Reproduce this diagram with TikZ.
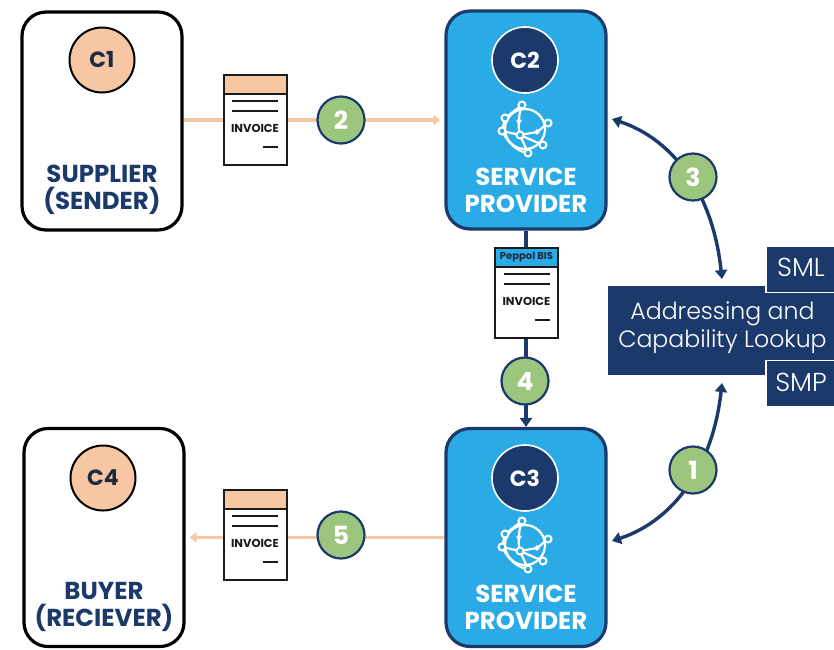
\documentclass[tikz,border=0pt]{standalone}
\usepackage{fontspec}
\setmainfont{Poppins}
\newfontfamily\lightf{Poppins Light}
\usetikzlibrary{arrows.meta}
\definecolor{navy}{HTML}{1B3A6B}
\definecolor{sky}{HTML}{2BABE6}
\definecolor{peach}{HTML}{F7C6A3}
\definecolor{leaf}{HTML}{9CC67E}
\definecolor{inkk}{HTML}{1A1A1A}
\definecolor{deep}{HTML}{1E2A40}
\tikzset{
  party/.style={draw=black,line width=3.2pt,fill=white,rounded corners=24pt,minimum width=160pt,minimum height=218pt,inner sep=0pt},
  provider/.style={draw=navy,line width=3.2pt,fill=sky,rounded corners=24pt,minimum width=160pt,minimum height=218pt,inner sep=0pt},
  badgeA/.style={circle,draw=black,line width=2pt,fill=peach,minimum size=65pt,inner sep=0pt,text=deep,font=\bfseries\fontsize{22}{22}\selectfont},
  badgeB/.style={circle,draw=white,line width=1.6pt,fill=navy,minimum size=66pt,inner sep=0pt,text=white,font=\bfseries\fontsize{22}{22}\selectfont},
  num/.style={circle,draw=navy,line width=2.2pt,fill=leaf,minimum size=47pt,inner sep=0pt,text=white,font=\bfseries\fontsize{25}{25}\selectfont},
  bigtxt/.style={align=center,font=\bfseries\fontsize{24.5}{27}\selectfont,inner sep=0pt},
  sheet/.style={draw=inkk,line width=2pt,fill=white,minimum width=63pt,minimum height=90pt,inner sep=0pt},
  band/.style={draw=inkk,line width=2pt,minimum width=63pt,minimum height=19pt,inner sep=0pt},
  invtxt/.style={font=\bfseries\fontsize{11.5}{12}\selectfont,text=inkk,inner sep=0pt},
  rule/.style={draw=inkk,line width=2pt},
  nline/.style={draw=navy,line width=3.4pt},
  pline/.style={draw=peach,line width=3.4pt},
  ntip/.style={-{Triangle[length=9pt,width=12pt]}},
  ntwo/.style={{Triangle[length=9pt,width=12pt]}-{Triangle[length=9pt,width=12pt]}},
  ptip/.style={-{Triangle[length=7pt,width=10pt]},shorten >=4pt},
  dark/.style={fill=navy,inner sep=0pt},
  lk/.style={draw=white,line width=2.2pt,line cap=round},
  dot/.style={circle,draw=white,line width=2pt,fill=sky,minimum size=7pt,inner sep=0pt},
}
\newcommand{\invoicelines}[1]{%
  \draw[rule] ([xshift=-23pt,yshift=-27pt]#1.north) -- ([xshift=23pt,yshift=-27pt]#1.north);
  \draw[rule] ([xshift=-23pt,yshift=-37pt]#1.north) -- ([xshift=23pt,yshift=-37pt]#1.north);
  \draw[rule] ([xshift=8pt,yshift=-73pt]#1.north) -- ([xshift=23pt,yshift=-73pt]#1.north);
  \node[invtxt] at ([yshift=-54pt]#1.north) {INVOICE};
}
\newcommand{\globe}[2]{%
  \begin{scope}[shift={(#1,#2)}]
    \coordinate (gA) at (-3,-23); \coordinate (gB) at (-20,-10); \coordinate (gC) at (-23,3);
    \coordinate (gD) at (23,-5); \coordinate (gE) at (18,17); \coordinate (gF) at (3,25);
    \coordinate (gG) at (-5,7); \coordinate (gH) at (-6,-7); \coordinate (gI) at (12,4);
    \draw[lk] (0,1) circle (20);
    \draw[lk] (gA) -- (gB) -- (gC) .. controls (-15,18) and (-6,24) .. (gF);
    \draw[lk] (gA) .. controls (-7,-12) and (-7,0) .. (gG);
    \draw[lk] (gG) -- (gI) -- (gD); \draw[lk] (gG) -- (gE); \draw[lk] (gC) -- (gG); \draw[lk] (gG) -- (gF);
    \foreach \p in {gA,gB,gC,gD,gE,gF,gG}{\node[dot] at (\p) {};}
    \foreach \p in {gH,gI}{\node[dot,fill=white,minimum size=3pt] at (\p) {};}
  \end{scope}
}
\begin{document}
\begin{tikzpicture}[x=1pt,y=-1pt]
\useasboundingbox (0,0) rectangle (834,649);
% party boxes
\node[party] (sup) at (102,121) {};
\node[provider] (c2box) at (526,120) {};
\node[provider] (c3box) at (526,537.5) {};
\node[party] (buy) at (104,537.5) {};
% lookup
\node[dark,minimum width=226pt,minimum height=89pt] (look) at (721,330.5) {};
\node[dark,draw=white,line width=1.4pt,minimum width=70pt,minimum height=46pt] (sml) at (801,269.5) {};
\node[dark,draw=white,line width=1.4pt,minimum width=70pt,minimum height=46pt] (smp) at (801,383.5) {};
\node[text=white,inner sep=0pt,font=\fontsize{26}{26}\selectfont\lightf] at (801,267) {SML};
\node[text=white,inner sep=0pt,font=\fontsize{26}{26}\selectfont\lightf] at (801,382) {SMP};
\node[text=white,inner sep=0pt,align=center,font=\lightf\fontsize{23.6}{28}\selectfont] (looktxt) at (722.5,328) {Addressing and\\Capability Lookup};
% connector anchors
\coordinate (a3s) at (612,119);
\coordinate (a3e) at (722,279);
\coordinate (a1s) at (722,383);
\coordinate (a1e) at (612,541);
% connectors
\draw[pline,ptip] (sup.east |- c2box.west) -- (c2box.west);
\draw[pline,ptip] (c3box.west) -- (buy.east);
\draw[nline,ntip] (c2box.south) -- (c3box.north);
\draw[nline,ntwo] (a3s) .. controls (675,140) and (713,195) .. (a3e);
\draw[nline,ntwo] (a1s) .. controls (713,465) and (675,520) .. (a1e);
% badges
\node[badgeA] (c1) at (102,60) {C1};
\node[badgeB] (c2) at (525,60) {C2};
\node[badgeB] (c3) at (525,478) {C3};
\node[badgeA] (c4) at (103,478) {C4};
\node[bigtxt,text=navy] (l1) at (102,190) {SUPPLIER\\(SENDER)};
\node[bigtxt,text=white] (l2) at (526,190) {SERVICE\\PROVIDER};
\node[bigtxt,text=white] (l3) at (526,607) {SERVICE\\PROVIDER};
\node[bigtxt,text=navy] (l4) at (104,607) {BUYER\\(RECIEVER)};
\globe{525}{128}
\globe{525}{544}
% invoices
\node[sheet] (i1) at (255,120) {};
\node[band,fill=peach,anchor=north] at (i1.north) {};
\invoicelines{i1}
\node[sheet] (i2) at (526.5,293) {};
\node[band,fill=sky,anchor=north,text=deep,font=\bfseries\fontsize{10}{10}\selectfont] at (i2.north) {Peppol BIS};
\invoicelines{i2}
\node[sheet] (i3) at (255,535) {};
\node[band,fill=peach,anchor=north] at (i3.north) {};
\invoicelines{i3}
% numbers
\node[num] (n2) at (341,120) {2};
\node[num] (n4) at (525,381) {4};
\node[num] (n5) at (341,535) {5};
\node[num] (n3) at (693,177) {3};
\node[num] (n1) at (693,470) {1};
\end{tikzpicture}
\end{document}
